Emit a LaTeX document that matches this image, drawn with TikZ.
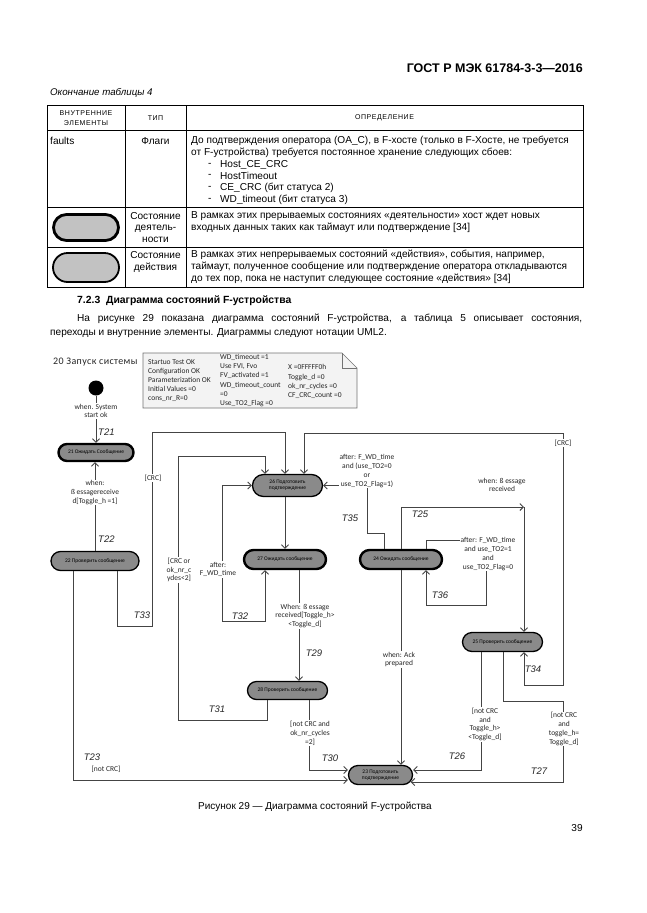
\documentclass[tikz,border=0pt]{standalone}
\usepackage{fontspec}
\setmainfont{Liberation Sans}
\newfontfamily\calfont{Carlito}
\usetikzlibrary{arrows.meta,shapes.misc}
\definecolor{nodegray}{HTML}{8A8A8A}
\definecolor{icongray}{HTML}{C2C2C2}
\definecolor{linegray}{HTML}{444444}
\definecolor{notefill}{HTML}{F3F3F3}
\tikzset{
  ptxt/.style={inner sep=0pt, font=\fontsize{10.1}{11.5}\selectfont},
  thead/.style={inner sep=0pt, align=center, font=\fontsize{7}{10.5}\selectfont\addfontfeatures{LetterSpace=8}},
  actst/.style={shape=rounded rectangle, draw=black, line width=2.4pt, fill=nodegray, inner sep=0pt, align=center, font=\calfont\fontsize{5.5}{6}\selectfont},
  acnst/.style={actst, line width=1.3pt},
  con/.style={draw=linegray, line width=0.9pt},
  arr/.style={con, -{Straight Barb[length=3.5pt,width=7pt]}},
  darr/.style={con, {Straight Barb[length=3.5pt,width=7pt]}-{Straight Barb[length=3.5pt,width=7pt]}},
  lbl/.style={font=\calfont\fontsize{7.5}{8.8}\selectfont, align=center, fill=white, inner sep=0.8pt, text=black!85},
  tlab/.style={font=\itshape\fontsize{9.5}{10}\selectfont, inner sep=0pt, text=black!85},
  notetxt/.style={font=\calfont\fontsize{7.5}{9.2}\selectfont, align=left, inner sep=0pt, anchor=west, text=black!85},
}
\begin{document}
\begin{tikzpicture}[x=1pt,y=-1pt]
\useasboundingbox[fill=white] (0,0) rectangle (646,913);
% header
\node[anchor=east, inner sep=0pt, font=\bfseries\fontsize{12.5}{14}\selectfont] (hdr) at (583,68) {ГОСТ Р МЭК 61784-3-3—2016};
\node[anchor=west, inner sep=0pt, font=\itshape\fontsize{9.7}{11}\selectfont] (tcap) at (50,93) {Окончание таблицы 4};
% table
\draw[line width=0.8pt] (47,105) rectangle (583,287);
\draw[line width=0.8pt] (47,130) -- (583,130) (47,207) -- (583,207) (47,247) -- (583,247) (125,105) -- (125,287) (186,105) -- (186,287);
\node[thead] (h1) at (86,118) {ВНУТРЕННИЕ\\ЭЛЕМЕНТЫ};
\node[thead] (h2) at (155.5,118) {ТИП};
\node[thead] (h3) at (384.5,118) {ОПРЕДЕЛЕНИЕ};
\node[ptxt, anchor=west] (r1a) at (50,141) {faults};
\node[ptxt] (r1b) at (155.5,141) {Флаги};
\node[ptxt, anchor=west] (r1c1) at (191,141) {До подтверждения оператора (OA\_C), в F-хосте (только в F-Хосте, не требуется};
\node[ptxt, anchor=west] (r1c2) at (191,153) {от F-устройства) требуется постоянное хранение следующих сбоев:};
\node[ptxt, anchor=west] (r1d1) at (208,165) {-};
\node[ptxt, anchor=west] (r1d2) at (208,176) {-};
\node[ptxt, anchor=west] (r1d3) at (208,188) {-};
\node[ptxt, anchor=west] (r1d4) at (208,200) {-};
\node[ptxt, anchor=west] (r1e1) at (220,165) {Host\_CE\_CRC};
\node[ptxt, anchor=west] (r1e2) at (220,176) {HostTimeout};
\node[ptxt, anchor=west] (r1e3) at (220,188) {CE\_CRC (бит статуса 2)};
\node[ptxt, anchor=west] (r1e4) at (220,200) {WD\_timeout (бит статуса 3)};
\node[shape=rounded rectangle, draw=black, line width=2.8pt, fill=icongray, minimum width=65pt, minimum height=26pt, inner sep=0pt] (ic1) at (86,227.5) {};
\node[ptxt, align=center, font=\fontsize{10.1}{11.5}\selectfont] (r2b) at (155.5,227.5) {Состояние\\деятель-\\ности};
\node[ptxt, anchor=west] (r2c1) at (191,216) {В рамках этих прерываемых состояниях «деятельности» хост ждет новых};
\node[ptxt, anchor=west] (r2c2) at (191,228) {входных данных таких как таймаут или подтверждение [34]};
\node[shape=rounded rectangle, draw=black, line width=1.8pt, fill=icongray, minimum width=66pt, minimum height=29pt, inner sep=0pt] (ic2) at (86,267.5) {};
\node[ptxt, align=center, font=\fontsize{10.1}{12}\selectfont] (r3b) at (155.5,262) {Состояние\\действия};
\node[ptxt, anchor=west] (r3c1) at (191,255) {В рамках этих непрерываемых состояний «действия», события, например,};
\node[ptxt, anchor=west] (r3c2) at (191,267) {таймаут, полученное сообщение или подтверждение оператора откладываются};
\node[ptxt, anchor=west] (r3c3) at (191,279) {до тех пор, пока не наступит следующее состояние «действия» [34]};
% section
\node[anchor=west, inner sep=0pt, font=\bfseries\fontsize{10.4}{12}\selectfont] (sec) at (77,301) {7.2.3\ \ Диаграмма состояний F-устройства};
\node[ptxt, anchor=west] (p1) at (77,319) {\makebox[505pt][s]{На рисунке 29 показана диаграмма состояний F-устройства, а таблица 5 описывает состояния,}};
\node[ptxt, anchor=west] (p2) at (50,333) {переходы и внутренние элементы. Диаграммы следуют нотации UML2.};
% diagram title and note
\node[anchor=west, inner sep=0pt, font=\calfont\fontsize{10}{11}\selectfont\addfontfeatures{LetterSpace=4}, text=black!85] (ttl) at (53,362) {20 Запуск системы};
\draw[draw=black!55, fill=notefill, line width=0.6pt] (143,353) -- (342,353) -- (357,368) -- (357,408) -- (143,408) -- cycle;
\draw[draw=black!55, line width=0.6pt] (342,353) -- (342,368) -- (357,368);
\node[notetxt] (nt1) at (148,380.5) {Startuo Test OK\\Configuration OK\\Parameterization OK\\Initial Values =0\\cons\_nr\_R=0};
\node[notetxt] (nt2) at (220,380.5) {WD\_timeout =1\\Use FVI, Fvo\\FV\_activated =1\\WD\_timeout\_count\\=0\\Use\_TO2\_Flag =0};
\node[notetxt] (nt3) at (288,381.5) {X =0FFFFF0h\\Toggle\_d =0\\ok\_nr\_cycles =0\\CF\_CRC\_count =0};
% states
\node[circle, fill=black, minimum size=15pt, inner sep=0pt] (init) at (96,388) {};
\node[actst, minimum width=75pt, minimum height=17pt] (n21) at (96,452.5) {21 Ожидать Сообщение};
\node[acnst, minimum width=88pt, minimum height=19pt] (n22) at (95,561) {22 Проверить сообщение};
\node[acnst, minimum width=70pt, minimum height=22pt] (n26) at (287.5,485.5) {26 Подготовить\\подтверждение};
\node[actst, minimum width=82pt, minimum height=19pt] (n27) at (285,559.5) {27 Ожидать сообщение};
\node[acnst, minimum width=80pt, minimum height=18pt] (n28) at (287.5,690.5) {28 Проверить сообщение};
\node[actst, minimum width=82pt, minimum height=19pt] (n24) at (401,559.5) {24 Ожидать сообщение};
\node[acnst, minimum width=80pt, minimum height=19pt] (n25) at (502.5,642) {25 Проверить сообщение};
\node[acnst, minimum width=64pt, minimum height=19pt] (n23) at (380.5,775) {23 Подготовить\\подтверждение};
\coordinate (c25) at (524,507);
% connectors
\draw[arr] (init) -- (init |- n21.north);
\draw[arr] (n22.north) -- (n22.north |- n21.south);
\draw[arr] ([xshift=-22pt]n22.south) |- ([yshift=-5pt]n23.west);
\draw[arr] ([xshift=22pt]n22.south) -- (117,626) -- (152,626) -- (152,432) -- (285,432) -- ([xshift=-2.5pt]n26.north);
\draw[arr] ([xshift=-20.5pt]n28.south) -- (267,720) -- (178,720) -- (178,456) -- (265,456) -- ([xshift=-22.5pt]n26.north);
\draw[darr] (n26.west) -- (222,485.5) -- (222,621) -- (265,621) -- ([xshift=-20pt]n27.south);
\draw[arr] ([xshift=-2.5pt]n26.south) -- (n27.north);
\draw[arr] ([xshift=14pt]n27.south) -- ([xshift=14pt]n27.south |- n28.north);
\draw[arr] ([xshift=21.5pt]n28.south) |- ([yshift=5pt]n23.west);
\draw[arr] ([xshift=-17pt]n24.north) -- (384,533) -- (367,533) -- (367,485.5) -- (n26.east);
\draw[arr] (n24.north) |- (c25);
\draw[arr] (c25) -- (c25 |- n25.north);
\draw[arr] (n24.south) -- (n24.south |- n23.north);
\draw[arr] ([xshift=25pt]n24.north) -- (426,540) -- (486,540) -- (486,605) -- (426,605) -- ([xshift=25pt]n24.south);
\draw[arr] ([xshift=-21.5pt]n25.south) |- ([yshift=5pt]n23.east);
\draw[arr] ([xshift=0.5pt]n25.south) -- (503,701) -- (563,701) -- (563,782) -- ([yshift=-7pt,xshift=-2.5pt]n23.east);
\draw[darr] ([xshift=16.5pt]n26.north) -- (304,433) -- (563,433) -- (563,685) -- (524,685) -- ([xshift=21.5pt]n25.south);
% labels
\node[lbl] (l21) at (96,411) {when. System\\start ok};
\node[tlab, anchor=west] (t21) at (98,432) {T21};
\node[lbl] (l22) at (95,492.5) {when:\\ß essagereceive\\d[Toggle\_h =1]};
\node[tlab, anchor=west] (t22) at (98,539) {T22};
\node[tlab] (t23) at (92,757) {T23};
\node[lbl] (l23) at (106,769) {[not CRC]};
\node[lbl] (lc1) at (153,478) {[CRC]};
\node[tlab] (t33) at (142,615) {T33};
\node[lbl] (l31) at (179,570) {[CRC or\\ok\_nr\_c\\ydes<2]};
\node[tlab] (t31) at (217,709) {T31};
\node[lbl] (l32) at (218,569.5) {after:\\F\_WD\_time};
\node[tlab] (t32) at (240,616) {T32};
\node[lbl] (l29) at (305,616) {When: ß essage\\received[Toggle\_h>\\<Toggle\_d]};
\node[tlab] (t29) at (314,653) {T29};
\node[lbl] (l30) at (310,733) {[not CRC and\\ok\_nr\_cycles\\=2]};
\node[tlab] (t30) at (330,758) {T30};
\node[lbl] (l35) at (367,471) {after: F\_WD\_time\\and (use\_TO2=0\\or\\use\_TO2\_Flag=1)};
\node[tlab] (t35) at (350,518) {T35};
\node[lbl] (l25) at (502,485) {when: ß essage\\received};
\node[tlab] (t25) at (420,514) {T25};
\node[lbl] (lack) at (399,659.5) {when: Ack\\prepared};
\node[lbl] (l36) at (488,554) {after: F\_WD\_time\\and use\_TO2=1\\and\\use\_TO2\_Flag=0};
\node[tlab] (t36) at (440,595) {T36};
\node[lbl] (l26) at (485,724.5) {[not CRC\\and\\Toggle\_h>\\<Toggle\_d]};
\node[tlab] (t26) at (457,756) {T26};
\node[lbl] (l27) at (564,729) {[not CRC\\and\\toggle\_h=\\Toggle\_d]};
\node[tlab] (t27) at (539,771) {T27};
\node[tlab] (t34) at (533,669) {T34};
\node[lbl] (lc2) at (563,443) {[CRC]};
% caption
\node[anchor=west, inner sep=0pt, font=\fontsize{10}{11}\selectfont] (cap) at (198,807) {Рисунок 29 — Диаграмма состояний F-устройства};
\node[ptxt] (pg) at (577,828) {39};
\end{tikzpicture}
\end{document}
